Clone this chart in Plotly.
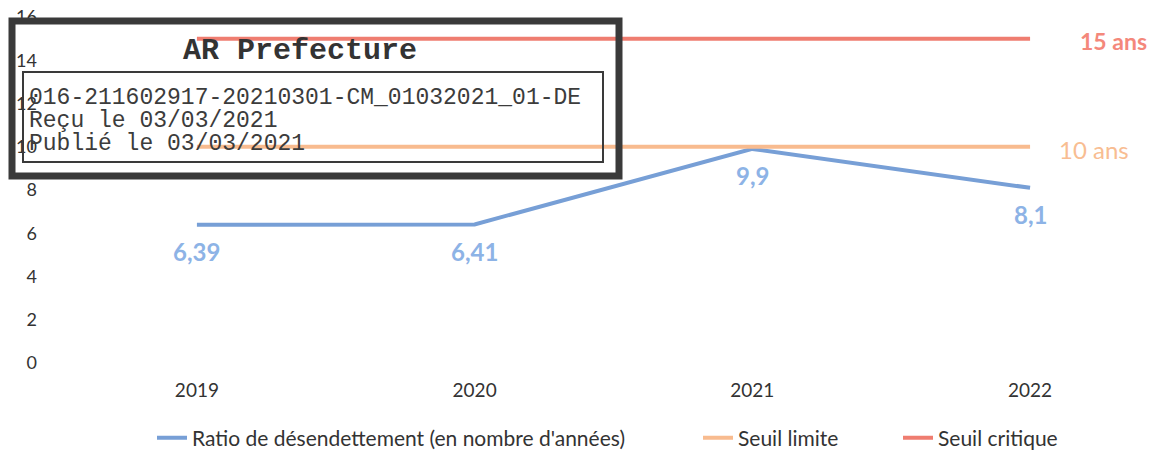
import plotly.graph_objects as go

years = ['2019', '2020', '2021', '2022']
ratio = [6.39, 6.41, 9.9, 8.1]
seuil_limite = [10, 10, 10, 10]
seuil_critique = [15, 15, 15, 15]
y_ticks = [0, 2, 4, 6, 8, 10, 12, 14, 16]

stamp_title = 'AR Prefecture'
stamp_lines = ['016-211602917-20210301-CM_01032021_01-DE',
               'Reçu le 03/03/2021',
               'Publié le 03/03/2021']

# la page html ajoute une marge de 8px autour du graphique
OFF = 8
W, H = 1157 - OFF, 450 - OFF
L, R, T, B = 52, 60, 9, 87
pw, ph = W - L - R, H - T - B


def px(x):
    return (x - OFF - L) / pw


def py(y):
    return (H - B - (y - OFF)) / ph


font = 'Lato'
blue = '#779fd6'
orange = '#f8bb8f'
red = '#ef7d70'

fig = go.Figure()
fig.add_trace(go.Scatter(x=years, y=ratio, mode='lines',
                         name="Ratio de désendettement (en nombre d'années)",
                         line=dict(color=blue, width=4), legend='legend'))
fig.add_trace(go.Scatter(x=years, y=seuil_limite, mode='lines', name='Seuil limite',
                         line=dict(color=orange, width=4), legend='legend2'))
fig.add_trace(go.Scatter(x=years, y=seuil_critique, mode='lines', name='Seuil critique',
                         line=dict(color=red, width=4), legend='legend3'))

# etiquettes de donnees sous la courbe
for i, yv in enumerate(ratio):
    fig.add_annotation(x=i, y=yv, text='<b>' + ('%g' % yv).replace('.', ',') + '</b>',
                       showarrow=False, yshift=-27, xanchor='center', yanchor='middle',
                       font=dict(family=font, size=24, color='#8db3e6'))

fig.add_annotation(x=px(1078), y=py(41), xref='paper', yref='paper', text='<b>15 ans</b>',
                   showarrow=False, xanchor='left', yanchor='middle',
                   font=dict(family=font, size=23, color='#f4887b'))
fig.add_annotation(x=px(1057), y=py(149), xref='paper', yref='paper', text='10 ans',
                   showarrow=False, xanchor='left', yanchor='middle',
                   font=dict(family=font, size=24, color='#f8bd92'))

# tampon AR prefecture
fig.add_shape(type='rect', xref='paper', yref='paper', x0=px(12), x1=px(619), y0=py(21), y1=py(176),
              line=dict(color='#3a3a3a', width=7), layer='above')
fig.add_shape(type='rect', xref='paper', yref='paper', x0=px(23), x1=px(603), y0=py(72), y1=py(162),
              line=dict(color='#3a3a3a', width=2), layer='above')
fig.add_annotation(x=px(300), y=py(51), xref='paper', yref='paper', text='<b>' + stamp_title + '</b>',
                   showarrow=False, xanchor='center', yanchor='middle',
                   font=dict(family='Liberation Mono', size=30, color='#333333'))
for i, s in enumerate(stamp_lines):
    fig.add_annotation(x=px(27), y=py(98 + 23 * i), xref='paper', yref='paper', text=s,
                       showarrow=False, xanchor='left', yanchor='middle',
                       font=dict(family='Liberation Mono', size=23, color='#3c3c3c'))

leg = dict(orientation='h', xanchor='left', y=py(438), yanchor='middle',
           font=dict(family=font, size=21, color='#333333'), bgcolor='rgba(0,0,0,0)')

fig.update_layout(
    width=W, height=H, margin=dict(l=L, r=R, t=T, b=B, autoexpand=False),
    plot_bgcolor='white', paper_bgcolor='white',
    font=dict(family=font, size=19, color='#404040'),
    showlegend=True,
    legend=dict(leg, x=px(152)),
    legend2=dict(leg, x=px(698)),
    legend3=dict(leg, x=px(898)),
    xaxis=dict(type='category', range=[-0.493, 3.241], showgrid=False, showline=False,
               ticks='', ticklabelstandoff=14, tickfont=dict(size=19, color='#333333')),
    yaxis=dict(range=[0, 16], tickvals=y_ticks, showgrid=False, zeroline=False,
               ticks='', ticklabelstandoff=22, ticklabeloverflow='allow',
               tickfont=dict(size=18, color='#333333')),
)

fig.write_html('out.html')
